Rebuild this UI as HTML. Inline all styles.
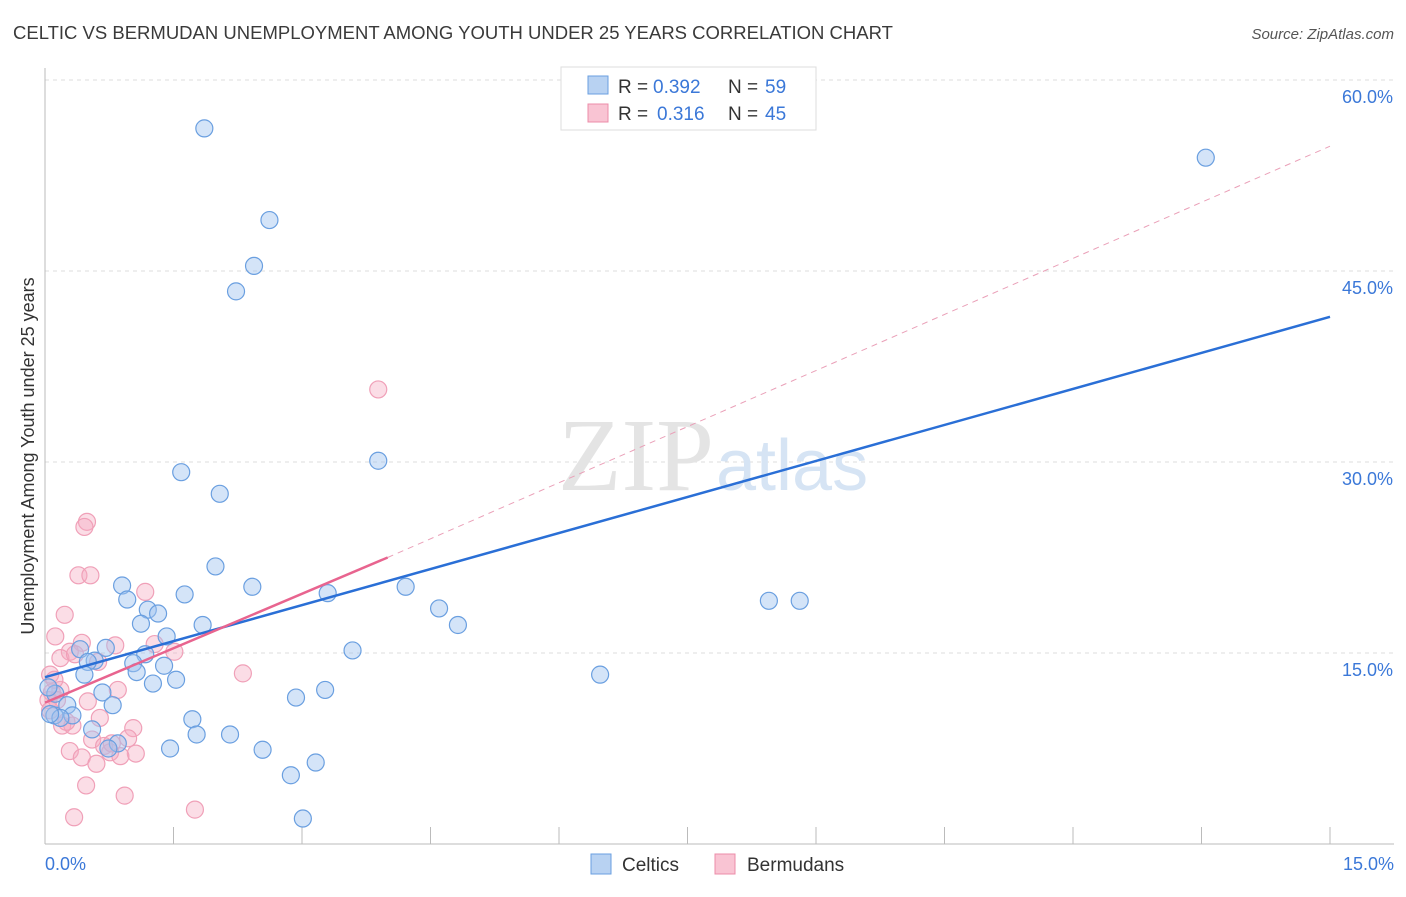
<!DOCTYPE html>
<html><head><meta charset="utf-8"><style>
body{margin:0;background:#fff;font-family:"Liberation Sans",sans-serif}
</style></head><body>
<svg width="1406" height="892" xmlns="http://www.w3.org/2000/svg">
<text x="13" y="39" font-size="18.5" fill="#3a3a3a">CELTIC VS BERMUDAN UNEMPLOYMENT AMONG YOUTH UNDER 25 YEARS CORRELATION CHART</text>
<text x="1394" y="39" font-size="15" fill="#555" text-anchor="end" font-style="italic">Source: ZipAtlas.com</text>
<g id="grid"></g>
<text x="714" y="490" font-size="104" fill="#e4e4e4" text-anchor="end" font-family="Liberation Serif">ZIP</text>
<text x="716" y="490" font-size="72" fill="#d6e4f4">atlas</text>
<g id="pts"></g>
<g id="lines"></g>
<text transform="translate(34,456) rotate(-90)" font-size="18" fill="#333" text-anchor="middle">Unemployment Among Youth under 25 years</text>
<g>
<rect x="561" y="67" width="255" height="63" fill="#fff" stroke="#ddd"/>
<rect x="588" y="76" width="20" height="18" fill="#b8d2f2" stroke="#6a9fe0"/>
<rect x="588" y="104" width="20" height="18" fill="#f9c4d3" stroke="#ec8ca8"/>
<text x="618" y="93" font-size="19" fill="#333">R =</text>
<text x="653" y="93" font-size="19" fill="#3b78d8">0.392</text>
<text x="728" y="93" font-size="19" fill="#333">N =</text>
<text x="765" y="93" font-size="19" fill="#3b78d8">59</text>
<text x="618" y="120" font-size="19" fill="#333">R =</text>
<text x="657" y="120" font-size="19" fill="#3b78d8">0.316</text>
<text x="728" y="120" font-size="19" fill="#333">N =</text>
<text x="765" y="120" font-size="19" fill="#3b78d8">45</text>
</g>
<g>
<rect x="591" y="854" width="20" height="20" fill="#b8d2f2" stroke="#6a9fe0"/>
<text x="622" y="871" font-size="19" fill="#333">Celtics</text>
<rect x="715" y="854" width="20" height="20" fill="#f9c4d3" stroke="#ec8ca8"/>
<text x="747" y="871" font-size="19" fill="#333">Bermudans</text>
</g>
</svg>
<script>
const xTicks=[0,1.5,3,4.5,6,7.5,9,10.5,12,13.5,15];
const yTicks=[15,30,45,60];
const celticsX=[1.86,2.62,2.44,2.23,13.55,1.59,3.89,2.04,0.90,1.99,2.42,0.96,1.63,1.20,1.32,1.12,1.84,3.30,4.21,4.60,4.82,8.45,8.81,1.42,1.17,0.71,0.41,0.58,0.50,1.03,1.39,1.07,0.46,1.53,1.26,3.59,3.27,2.93,6.48,0.67,0.12,0.04,0.26,0.79,0.11,0.32,0.18,0.55,1.72,0.85,0.74,1.46,1.77,2.16,2.54,3.16,2.87,3.01,0.06];
const celticsY=[56.2,49.0,45.4,43.4,53.9,29.2,30.1,27.5,20.3,21.8,20.2,19.2,19.6,18.4,18.1,17.3,17.2,19.7,20.2,18.5,17.2,19.1,19.1,16.3,14.9,15.4,15.3,14.4,14.3,14.2,14.0,13.5,13.3,12.9,12.6,15.2,12.1,11.5,13.3,11.9,11.8,12.3,10.9,10.9,10.1,10.1,9.9,9.0,9.8,7.9,7.5,7.5,8.6,8.6,7.4,6.4,5.4,2.0,10.2];
const bermX=[3.89,0.49,0.46,0.39,0.53,1.17,0.23,0.12,0.43,0.82,1.28,0.29,0.18,0.35,0.62,1.51,2.31,0.06,0.18,0.85,0.08,0.50,0.04,0.64,0.20,0.32,1.03,0.55,0.97,0.29,0.43,0.69,0.76,1.06,0.88,0.60,0.48,0.93,1.75,0.34,0.06,0.14,0.25,0.11,0.78];
const bermY=[35.7,25.3,24.9,21.1,21.1,19.8,18.0,16.3,15.8,15.6,15.7,15.1,14.6,14.9,14.3,15.1,13.4,13.3,12.1,12.1,11.9,11.2,11.3,9.9,9.3,9.3,9.1,8.2,8.3,7.3,6.8,7.7,7.2,7.1,6.9,6.3,4.6,3.8,2.7,2.1,10.5,11.3,9.6,12.9,7.9];
const xMin=0,xMax=15,yMin=0,yMax=60;
const X=v=>45+(v-xMin)/(xMax-xMin)*1285;
const Y=v=>844-(v-yMin)/(yMax-yMin)*764;
const NS="http://www.w3.org/2000/svg";
function mk(t,a,p){const e=document.createElementNS(NS,t);for(const k in a)e.setAttribute(k,a[k]);p.appendChild(e);return e;}
const grid=document.getElementById('grid');
yTicks.forEach(t=>{
const l=mk('line',{x1:45,x2:1394,y1:Y(t),y2:Y(t),stroke:'#ddd','stroke-dasharray':'4,4'},grid);


const tx=mk('text',{x:1393,y:Y(t)+23,'font-size':18,fill:'#3b78d8','text-anchor':'end'},grid);tx.textContent=t.toFixed(1)+'%';


});
mk('line',{x1:45,x2:45,y1:68,y2:844,stroke:'#bbb'},grid);
mk('line',{x1:45,x2:1394,y1:844,y2:844,stroke:'#bbb'},grid);
xTicks.forEach((t,i)=>{if(i==0)return;
const l=mk('line',{x1:X(t),x2:X(t),y1:827,y2:844,stroke:'#bbb'},grid);

});
[[0,45,'start'],[15,1394,'end']].forEach(([v,x,a])=>{const t=mk('text',{x:x,y:870,'font-size':18,fill:'#3b78d8','text-anchor':a},grid);t.textContent=v.toFixed(1)+'%';

});
const pts=document.getElementById('pts');
bermX.forEach((x,i)=>{const c=mk('circle',{cx:X(x),cy:Y(bermY[i]),r:8.5,fill:'rgba(246,170,192,0.4)',stroke:'#f0a0b8','stroke-width':1.2},pts);

});
celticsX.forEach((x,i)=>{const c=mk('circle',{cx:X(x),cy:Y(celticsY[i]),r:8.5,fill:'rgba(160,196,240,0.45)',stroke:'#6a9fe0','stroke-width':1.2},pts);

});
const lines=document.getElementById('lines');
const bl=mk('line',{x1:X(0),y1:Y(13.1),x2:X(15),y2:Y(41.4),stroke:'#2a6fd6','stroke-width':2.5},lines);


const pd=mk('line',{x1:X(4),y1:Y(22.5),x2:X(15),y2:Y(54.8),stroke:'#eaa0b8','stroke-width':1,'stroke-dasharray':'6,5'},lines);


const pl=mk('line',{x1:X(0),y1:Y(11.1),x2:X(4),y2:Y(22.5),stroke:'#e8648f','stroke-width':2.5},lines);


</script>
</body></html>
